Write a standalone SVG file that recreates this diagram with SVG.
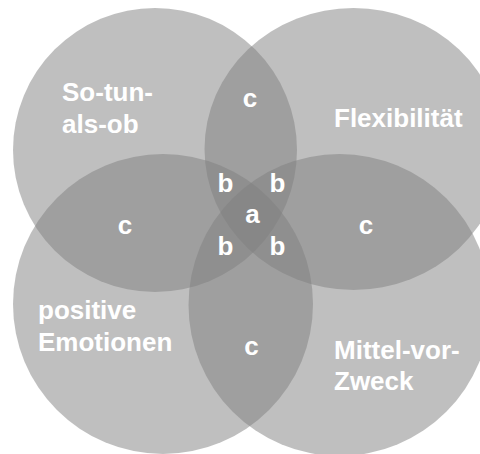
<svg xmlns="http://www.w3.org/2000/svg" width="480" height="454" viewBox="0 0 480 454">
  <style>
    .set { fill: #808080; fill-opacity: 0.5; stroke: none; }
    .lbl { font-family: "Liberation Sans", Arial, sans-serif; font-weight: bold; font-size: 26px; fill: #ffffff; }
    .mid { text-anchor: middle; }
  </style>
  <rect x="0" y="0" width="480" height="454" fill="#ffffff"/>
  <g id="set-so-tun-als-ob">
    <circle class="set" cx="155" cy="150" r="142"/>
  </g>
  <g id="set-flexibilitaet">
    <ellipse class="set" cx="353.5" cy="149" rx="149" ry="141"/>
  </g>
  <g id="set-positive-emotionen">
    <circle class="set" cx="163" cy="304" r="150"/>
  </g>
  <g id="set-mittel-vor-zweck">
    <circle class="set" cx="339.5" cy="305" r="151"/>
  </g>
  <g id="set-labels">
    <text class="lbl" x="62" y="101">So-tun-</text>
    <text class="lbl" x="62" y="133">als-ob</text>
    <text class="lbl" x="334" y="127">Flexibilität</text>
    <text class="lbl" x="38" y="319">positive</text>
    <text class="lbl" x="38" y="351">Emotionen</text>
    <text class="lbl" x="334" y="359">Mittel-vor-</text>
    <text class="lbl" x="334" y="390">Zweck</text>
  </g>
  <g id="region-labels">
    <text class="lbl mid" x="250" y="107">c</text>
    <text class="lbl mid" x="125" y="234">c</text>
    <text class="lbl mid" x="366" y="234">c</text>
    <text class="lbl mid" x="251.5" y="355">c</text>
    <text class="lbl mid" x="225.5" y="192">b</text>
    <text class="lbl mid" x="277.5" y="192">b</text>
    <text class="lbl mid" x="225.5" y="255">b</text>
    <text class="lbl mid" x="277.5" y="255">b</text>
    <text class="lbl mid" x="252.5" y="223">a</text>
  </g>
</svg>
